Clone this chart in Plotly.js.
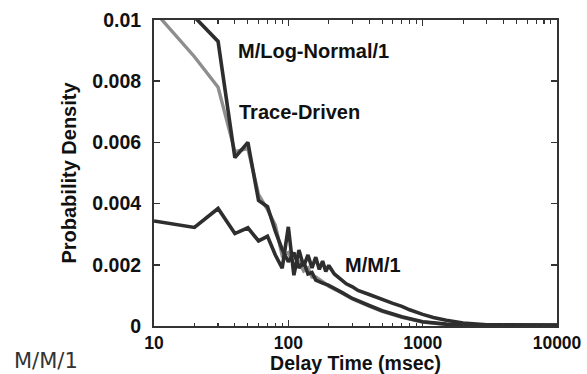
<!DOCTYPE html>
<html>
<head>
<meta charset="utf-8">
<script src="https://cdn.plot.ly/plotly-3.0.1.min.js"></script>
<style>
html,body{margin:0;padding:0;background:#fff;}
#chart{width:587px;height:374px;}
</style>
</head>
<body>
<div id="chart"></div>
<script>
// Delay time (msec) and probability density values
var mm1X = [10,20,30,40,50,60,70,80,90,100,110,120,130,140,150,160,170,180,190,200,220,250,270,300,330,400,450,500,600,700,800,1000,1200,1500,2000,3000,5000,10000];
var mm1Y = [0.00343,0.00322,0.00384,0.00302,0.00321,0.00278,0.00293,0.00232,0.00189,0.00324,0.00166,0.00248,0.00195,0.00232,0.00190,0.00225,0.00185,0.00212,0.00178,0.00198,0.00170,0.00150,0.00138,0.00128,0.00116,0.00103,0.00094,0.00087,0.00074,0.00064,0.00053,0.00038,0.00028,0.00019,0.00010,0.00004,0.00003,0.00003];

var lnX = [10,20,30,40,50,60,70,80,90,100,110,120,130,140,150,160,180,200,250,300,400,500,700,1000,1500,2000,3000,5000,10000];
var lnY = [0.0125,0.0101,0.0093,0.0055,0.0060,0.0041,0.0039,0.0031,0.0025,0.0021,0.0024,0.0019,0.0021,0.0017,0.00175,0.0015,0.0014,0.00133,0.0011,0.0009,0.00067,0.0005,0.0003,0.00014,0.00006,0.00003,0.00002,0.00002,0.00002];

var tdX = [10,20,30,40,50,60,70,80,90,100,110,120,130,140,150,160,180,200,250,300,400,500,700,1000,1500,2000,3000,5000,10000];
var tdY = [0.0103,0.0088,0.0078,0.0057,0.0058,0.0043,0.0038,0.0033,0.0023,0.0024,0.0020,0.0021,0.0018,0.0019,0.0016,0.0016,0.00145,0.0013,0.00108,0.00088,0.00065,0.00048,0.00028,0.00013,0.00005,0.00003,0.00002,0.00002,0.00002];

var xTickVals = [10,100,1000,10000];
var xTickText = ['10','100','1000','10000'];
var xMinorVals = [20,30,40,50,60,70,80,90,200,300,400,500,600,700,800,900,2000,3000,4000,5000,6000,7000,8000,9000];
var yTickVals = [0,0.002,0.004,0.006,0.008,0.01];
var yTickText = ['0','0.002','0.004','0.006','0.008','0.01'];

var dark = '#2e2e2e';
var gray = '#8e8e8e';

var traces = [
  {x: tdX, y: tdY, mode: 'lines', name: 'Trace-Driven', line: {color: gray, width: 3.4}},
  {x: mm1X, y: mm1Y, mode: 'lines', name: 'M/M/1', line: {color: dark, width: 3.6}},
  {x: lnX, y: lnY, mode: 'lines', name: 'M/Log-Normal/1', line: {color: dark, width: 3.6}}
];

var fam = 'Liberation Sans, Arial, sans-serif';
var labFont = {family: fam, size: 20, color: '#111'};

var layout = {
  width: 587, height: 374,
  margin: {l: 154, r: 30, t: 20, b: 48, pad: 0},
  paper_bgcolor: '#fff', plot_bgcolor: '#fff',
  showlegend: false,
  font: {family: fam, color: '#111'},
  xaxis: {
    type: 'log', range: [1, 4],
    tickmode: 'array', tickvals: xTickVals,
    ticktext: xTickText.map(function(t){return '<b>' + t + '</b>';}),
    ticks: 'inside', ticklen: 6, tickwidth: 1.5, tickcolor: '#333',
    ticklabelstandoff: 0,
    minor: {tickmode: 'array', tickvals: xMinorVals, ticks: 'inside', ticklen: 3.5, tickwidth: 1.2, tickcolor: '#333', showgrid: false},
    showline: true, linecolor: '#333', linewidth: 2, mirror: 'allticks',
    showgrid: false, zeroline: false,
    tickfont: {family: fam, size: 17.5, color: '#111'},
    title: {text: '<b>Delay Time (msec)</b>', font: {family: fam, size: 19.5, color: '#111'}, standoff: 8}
  },
  yaxis: {
    range: [0, 0.01],
    tickmode: 'array', tickvals: yTickVals,
    ticktext: yTickText.map(function(t){return '<b>' + t + '</b>';}),
    ticks: 'inside', ticklen: 6, tickwidth: 1.5, tickcolor: '#333',
    ticklabelstandoff: 7,
    showline: true, linecolor: '#333', linewidth: 2, mirror: 'allticks',
    showgrid: false, zeroline: false,
    tickfont: {family: fam, size: 19.5, color: '#111'},
    title: {text: '<b>Probability Density</b>', font: labFont, standoff: 10}
  },
  annotations: [
    {xref: 'paper', yref: 'paper', x: 0.203, y: 0.90, xanchor: 'left', yanchor: 'middle', text: '<b>M/Log-Normal/1</b>', showarrow: false, font: labFont},
    {xref: 'paper', yref: 'paper', x: 0.205, y: 0.70, xanchor: 'left', yanchor: 'middle', text: '<b>Trace-Driven</b>', showarrow: false, font: labFont},
    {xref: 'paper', yref: 'paper', x: 0.469, y: 0.198, xanchor: 'left', yanchor: 'middle', text: '<b>M/M/1</b>', showarrow: false, font: labFont},
    {xref: 'paper', yref: 'paper', x: -0.35, y: -0.157, xanchor: 'left', yanchor: 'bottom', text: 'M/M/1', showarrow: false, borderpad: 0, font: {family: 'DejaVu Sans, sans-serif', size: 21, color: '#333'}}
  ]
};

Plotly.newPlot('chart', traces, layout, {staticPlot: true, displayModeBar: false});
</script>
</body>
</html>
